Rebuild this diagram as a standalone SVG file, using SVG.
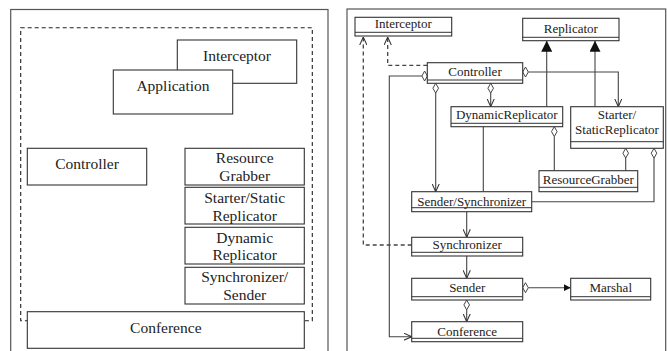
<svg xmlns="http://www.w3.org/2000/svg" width="667" height="351" viewBox="0 0 667 351">
<style>
text{fill:#222;text-anchor:middle}
.l{font-size:15.5px}
.r{font-size:13px}
.frame{fill:none;stroke:#555;stroke-width:1.2}
.box{fill:#fff;stroke:#333;stroke-width:1.1}
.in{stroke:#333;stroke-width:1;fill:none}
.ln{fill:none;stroke:#444;stroke-width:1.1}
.dash{fill:none;stroke:#444;stroke-width:1.3;stroke-dasharray:4 3}
.dia{fill:#fff;stroke:#444;stroke-width:1}
</style>
<defs>
<marker id="open" viewBox="0 0 10 10" refX="10" refY="5" markerUnits="userSpaceOnUse" markerWidth="8" markerHeight="8" orient="auto"><path d="M0,0.5 L10,5 L0,9.5" fill="none" stroke="#333" stroke-width="1.3"/></marker>
<marker id="tri" viewBox="0 0 10 10" refX="10" refY="5" markerUnits="userSpaceOnUse" markerWidth="11" markerHeight="11" orient="auto"><path d="M0,0 L10,5 L0,10 Z" fill="#111"/></marker>
<marker id="trs" viewBox="0 0 10 10" refX="10" refY="5" markerUnits="userSpaceOnUse" markerWidth="7" markerHeight="7" orient="auto"><path d="M0,0 L10,5 L0,10 Z" fill="#111"/></marker>
</defs>

<g id="left-panel" font-family="Times New Roman, Liberation Serif, serif">
<rect class="frame" x="10.7" y="9.5" width="317.3" height="350"/>
<rect id="boundary" x="20.7" y="27.7" width="291.6" height="293" fill="none" stroke="#222" stroke-width="1.1" stroke-dasharray="4 3"/>
<g id="l-interceptor"><rect class="box" x="177.3" y="40" width="119.4" height="43.3"/><text class="l" x="237" y="61">Interceptor</text></g>
<g id="l-application"><rect class="box" x="113.3" y="70" width="119.4" height="44"/><text class="l" x="173" y="91">Application</text></g>
<g id="l-controller"><rect class="box" x="27.3" y="148.3" width="119.4" height="36.7"/><text class="l" x="87" y="169">Controller</text></g>
<g id="l-resourcegrabber"><rect class="box" x="185" y="148.3" width="119.3" height="36.7"/><text class="l" x="244.7" y="163.3">Resource</text><text class="l" x="244.7" y="180.7">Grabber</text></g>
<g id="l-staticreplicator"><rect class="box" x="185" y="187.3" width="119.3" height="36.7"/><text class="l" x="244.7" y="203">Starter/Static</text><text class="l" x="244.7" y="220.5">Replicator</text></g>
<g id="l-dynamicreplicator"><rect class="box" x="185" y="227.3" width="119.3" height="36.7"/><text class="l" x="244.7" y="242.7">Dynamic</text><text class="l" x="244.7" y="260">Replicator</text></g>
<g id="l-synchronizer"><rect class="box" x="185" y="267.3" width="119.3" height="36.7"/><text class="l" x="244.7" y="281.7">Synchronizer/</text><text class="l" x="244.7" y="300">Sender</text></g>
<g id="l-conference"><rect class="box" x="27.3" y="311.7" width="277" height="36.6"/><text class="l" x="165.8" y="332.7">Conference</text></g>
</g>

<rect class="frame" x="347" y="9" width="318.7" height="350"/>

<g id="connectors">
<polyline class="dash" points="427.3,65.3 387.7,65.3 387.7,37" marker-end="url(#open)"/>
<polyline class="dash" points="411.7,245 363.3,245 363.3,37" marker-end="url(#open)"/>
<polygon class="dia" points="427.3,76 424.6,71 421.9,76 424.6,81"/>
<polyline class="ln" points="421.9,76 389.3,76 389.3,336.7 411.7,336.7" marker-end="url(#open)"/>
<polygon class="dia" points="435.7,83.3 438.5,88.2 435.7,93.1 432.9,88.2"/>
<line class="ln" x1="435.7" y1="93.1" x2="435.7" y2="191.7" marker-end="url(#open)"/>
<polygon class="dia" points="490.7,83.3 493.5,88.2 490.7,93.1 487.9,88.2"/>
<line class="ln" x1="490.7" y1="93.1" x2="490.7" y2="106.7" marker-end="url(#open)"/>
<polygon class="dia" points="522.7,72 525.5,67 528.3,72 525.5,77"/>
<polyline class="ln" points="528.3,72 618.3,72 618.3,106.7" marker-end="url(#open)"/>
<line class="ln" x1="546.7" y1="106.7" x2="546.7" y2="40.7" marker-end="url(#tri)"/>
<line class="ln" x1="595" y1="106.7" x2="595" y2="40.7" marker-end="url(#tri)"/>
<polygon class="dia" points="554.3,126.7 557.1,131.6 554.3,136.5 551.5,131.6"/>
<line class="ln" x1="554.3" y1="136.5" x2="554.3" y2="170.7"/>
<polygon class="dia" points="625.7,148.3 628.5,153.2 625.7,158.1 622.9,153.2"/>
<line class="ln" x1="625.7" y1="158.1" x2="625.7" y2="170.7"/>
<polygon class="dia" points="654,148.3 656.8,153.2 654,158.1 651.2,153.2"/>
<polyline class="ln" points="654,158.1 654,201.7 531.7,201.7"/>
<line class="ln" x1="483.3" y1="126.7" x2="483.3" y2="191.7"/>
<line class="ln" x1="466.7" y1="211.7" x2="466.7" y2="237.3" marker-end="url(#open)"/>
<line class="ln" x1="466.7" y1="256" x2="466.7" y2="278.3" marker-end="url(#open)"/>
<polygon class="dia" points="466.7,300 469.5,304.9 466.7,309.8 463.9,304.9"/>
<line class="ln" x1="466.7" y1="309.8" x2="466.7" y2="321.7" marker-end="url(#open)"/>
<polygon class="dia" points="522.7,287.7 525.5,282.7 528.3,287.7 525.5,292.7"/>
<line class="ln" x1="528.3" y1="287.7" x2="570.7" y2="287.7" marker-end="url(#trs)"/>
</g>

<g id="right-nodes" font-family="Times New Roman, Liberation Serif, serif">
<g id="r-interceptor"><rect class="box" x="355" y="17.3" width="96.7" height="18.7"/><line class="in" x1="355" y1="32.3" x2="451.7" y2="32.3"/><text class="r" x="403.3" y="28.3">Interceptor</text></g>
<g id="r-replicator"><rect class="box" x="522.7" y="18.3" width="96.3" height="22.4"/><line class="in" x1="522.7" y1="37.3" x2="619" y2="37.3"/><text class="r" x="570.8" y="32.5">Replicator</text></g>
<g id="r-controller"><rect class="box" x="427.3" y="62.7" width="95.4" height="20.6"/><line class="in" x1="427.3" y1="80" x2="522.7" y2="80"/><text class="r" x="475" y="76">Controller</text></g>
<g id="r-dynamicreplicator"><rect class="box" x="451" y="106.7" width="111.7" height="20"/><line class="in" x1="451" y1="123.3" x2="562.7" y2="123.3"/><text class="r" x="506.8" y="119">DynamicReplicator</text></g>
<g id="r-staticreplicator"><rect class="box" x="570.7" y="106.7" width="92.6" height="41.6"/><line class="in" x1="570.7" y1="141.7" x2="663.3" y2="141.7"/><text class="r" x="617" y="119">Starter/</text><text class="r" x="617" y="134">StaticReplicator</text></g>
<g id="r-resourcegrabber"><rect class="box" x="539" y="170.7" width="98.7" height="21"/><line class="in" x1="539" y1="187.3" x2="637.7" y2="187.3"/><text class="r" x="588.3" y="184">ResourceGrabber</text></g>
<g id="r-sendersynchronizer"><rect class="box" x="411.7" y="191.7" width="120" height="20"/><line class="in" x1="411.7" y1="207.7" x2="531.7" y2="207.7"/><text class="r" x="471.7" y="205.5">Sender/Synchronizer</text></g>
<g id="r-synchronizer"><rect class="box" x="411.7" y="237.3" width="111" height="18.7"/><line class="in" x1="411.7" y1="252.3" x2="522.7" y2="252.3"/><text class="r" x="467.2" y="248.5">Synchronizer</text></g>
<g id="r-sender"><rect class="box" x="411.7" y="278.3" width="111" height="21.7"/><line class="in" x1="411.7" y1="296.7" x2="522.7" y2="296.7"/><text class="r" x="467.2" y="292.2">Sender</text></g>
<g id="r-conference"><rect class="box" x="411.7" y="321.7" width="111" height="20"/><line class="in" x1="411.7" y1="338.3" x2="522.7" y2="338.3"/><text class="r" x="467.2" y="335.5">Conference</text></g>
<g id="r-marshal"><rect class="box" x="570.7" y="278.3" width="80" height="21.7"/><line class="in" x1="570.7" y1="296.7" x2="650.7" y2="296.7"/><text class="r" x="610.7" y="291.8">Marshal</text></g>
</g>
</svg>
